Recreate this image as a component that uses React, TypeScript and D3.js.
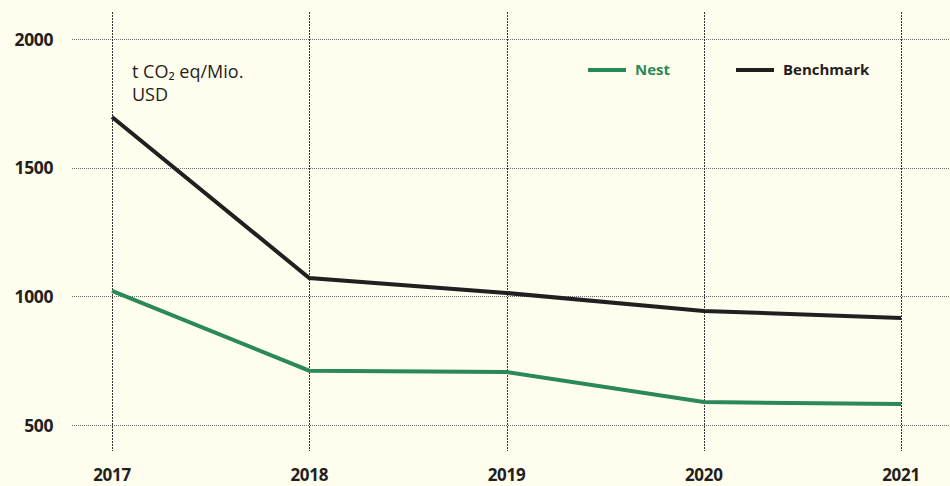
import * as d3 from 'd3';
import React, { useEffect, useRef } from 'react';

const years = [2017, 2018, 2019, 2020, 2021];
const nestValues = [1021, 711, 706, 589, 582];
const benchmarkValues = [1697, 1071, 1013, 943, 916];
const yTicks = [500, 1000, 1500, 2000];

const W = 950;
const H = 486;
const GREEN = '#2a8957';
const BLACK = '#231f20';
const FONT = '"Open Sans", "Noto Sans", sans-serif';

export default function App() {
  const ref = useRef<SVGSVGElement>(null);

  useEffect(() => {
    const svg = d3.select(ref.current);
    svg.selectAll('*').remove();

    const x = d3.scaleLinear().domain([2017, 2021]).range([112, 901]);
    const y = d3.scaleLinear().domain([500, 2000]).range([425, 39]);

    // background
    svg.append('rect').attr('width', W).attr('height', H).attr('fill', '#fffdee');

    // horizontal grid
    svg
      .append('g')
      .selectAll('line')
      .data(yTicks)
      .join('line')
      .attr('x1', 72)
      .attr('x2', W)
      .attr('y1', (d) => Math.round(y(d)) + 0.5)
      .attr('y2', (d) => Math.round(y(d)) + 0.5)
      .attr('stroke', '#6b6b6b')
      .attr('stroke-width', 1)
      .attr('stroke-dasharray', '1,1');

    // vertical grid
    svg
      .append('g')
      .selectAll('line')
      .data(years)
      .join('line')
      .attr('x1', (d) => Math.round(x(d)) + 0.5)
      .attr('x2', (d) => Math.round(x(d)) + 0.5)
      .attr('y1', 12)
      .attr('y2', 451)
      .attr('stroke', '#333')
      .attr('stroke-width', 1)
      .attr('stroke-dasharray', '2,1');

    // y labels
    svg
      .append('g')
      .selectAll('text')
      .data(yTicks)
      .join('text')
      .attr('x', 53)
      .attr('y', (d) => y(d) + 6.5)
      .attr('text-anchor', 'end')
      .attr('font-family', FONT)
      .attr('font-weight', 700)
      .attr('font-size', 17.5)
      .attr('letter-spacing', -0.4)
      .attr('fill', BLACK)
      .text((d) => d);

    // x labels
    svg
      .append('g')
      .selectAll('text')
      .data(years)
      .join('text')
      .attr('x', (d) => x(d))
      .attr('y', 481)
      .attr('text-anchor', 'middle')
      .attr('font-family', FONT)
      .attr('font-weight', 700)
      .attr('font-size', 17)
      .attr('letter-spacing', -0.3)
      .attr('fill', BLACK)
      .text((d) => d);

    // lines
    const series = [
      { name: 'Benchmark', values: benchmarkValues, color: BLACK },
      { name: 'Nest', values: nestValues, color: GREEN },
    ];
    const line = d3
      .line<number>()
      .x((_d, i) => x(years[i]))
      .y((d) => y(d));
    svg
      .append('g')
      .selectAll('path')
      .data(series)
      .join('path')
      .attr('d', (s) => line(s.values))
      .attr('fill', 'none')
      .attr('stroke', (s) => s.color)
      .attr('stroke-width', 4);

    // unit label
    const unit = svg
      .append('text')
      .attr('font-family', FONT)
      .attr('font-size', 18)
      .attr('fill', BLACK);
    unit.append('tspan').attr('x', 132).attr('y', 78).text('t CO₂ eq/Mio.');
    unit.append('tspan').attr('x', 132).attr('y', 101).text('USD');

    // legend
    const legend = [
      { name: 'Nest', color: GREEN, x: 588 },
      { name: 'Benchmark', color: BLACK, x: 736 },
    ];
    const lg = svg.append('g').selectAll('g').data(legend).join('g');
    lg.append('line')
      .attr('x1', (d) => d.x)
      .attr('x2', (d) => d.x + 38)
      .attr('y1', 70)
      .attr('y2', 70)
      .attr('stroke', (d) => d.color)
      .attr('stroke-width', 4);
    lg.append('text')
      .attr('x', (d) => d.x + 47)
      .attr('y', 75)
      .attr('font-family', FONT)
      .attr('font-weight', 700)
      .attr('font-size', 15)
      .attr('fill', (d) => d.color)
      .text((d) => d.name);
  }, []);

  return (
    <svg
      ref={ref}
      width={W}
      height={H}
      style={{ position: 'absolute', left: 0, top: 0, display: 'block' }}
    />
  );
}
